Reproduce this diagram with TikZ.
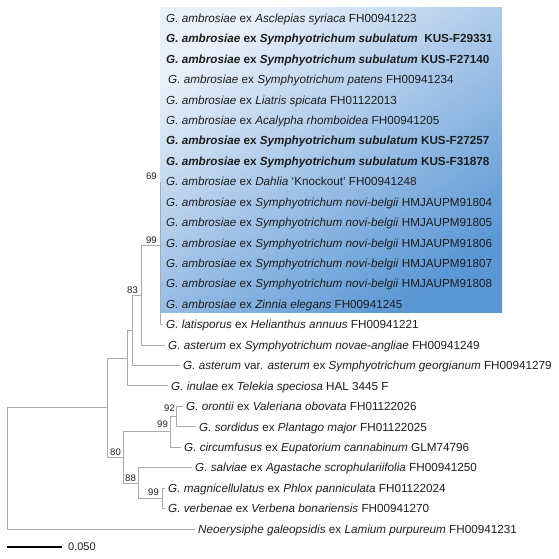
\documentclass[tikz,border=0pt]{standalone}
\usepackage{fontspec}
\setmainfont{Liberation Sans}
\usetikzlibrary{backgrounds}
\definecolor{boxlight}{HTML}{E9F0FA}
\definecolor{boxmid}{HTML}{9CC0E8}
\definecolor{boxdark}{HTML}{5B97D5}
\definecolor{branchgray}{HTML}{ABABAB}
\definecolor{inkgray}{HTML}{1E1E1E}
\newcommand{\gamb}{\textit{G. ambrosiae} ex}

\begin{document}
\begin{tikzpicture}[x=1pt, y=-1pt,
        branch/.style = {draw=branchgray, line width=0.9pt},
        taxon/.style = {anchor=west, inner xsep=3pt, inner ysep=0pt,
            text height=8.4pt, text depth=0pt,
            font=\fontsize{11.7}{14}\selectfont, text=inkgray},
        boot/.style = {anchor=south east, inner sep=0pt,
            font=\fontsize{9.5}{10}\selectfont, text=inkgray}]

    \useasboundingbox (0,0) rectangle (559,558);

    % Highlighted clade
    \shade[top color=boxlight, middle color=boxmid, bottom color=boxdark,
        shading angle=35] (160.4,7) rectangle (502,312);

    % G. ambrosiae
    \node[taxon] (a1) at (163,18.0) {\gamb\ \textit{Asclepias syriaca} FH00941223};
    \node[taxon] (a2) at (163,38.4) {\bfseries\gamb\ \textit{Symphyotrichum subulatum}\ \ KUS-F29331};
    \node[taxon] (a3) at (163,58.9) {\bfseries\gamb\ \textit{Symphyotrichum subulatum} KUS-F27140};
    \node[taxon] (a4) at (165,79.3) {\gamb\ \textit{Symphyotrichum patens} FH00941234};
    \node[taxon] (a5) at (163,99.8) {\gamb\ \textit{Liatris spicata} FH01122013};
    \node[taxon] (a6) at (163,120.2) {\gamb\ \textit{Acalypha rhomboidea} FH00941205};
    \node[taxon] (a7) at (163,140.6) {\bfseries\gamb\ \textit{Symphyotrichum subulatum} KUS-F27257};
    \node[taxon] (a8) at (163,161.1) {\bfseries\gamb\ \textit{Symphyotrichum subulatum} KUS-F31878};
    \node[taxon] (a9) at (163,181.5) {\gamb\ \textit{Dahlia} ‘Knockout’ FH00941248};
    \node[taxon] (a10) at (163,202.0) {\gamb\ \textit{Symphyotrichum novi-belgii} HMJAUPM91804};
    \node[taxon] (a11) at (163,222.4) {\gamb\ \textit{Symphyotrichum novi-belgii} HMJAUPM91805};
    \node[taxon] (a12) at (163,242.8) {\gamb\ \textit{Symphyotrichum novi-belgii} HMJAUPM91806};
    \node[taxon] (a13) at (163,263.3) {\gamb\ \textit{Symphyotrichum novi-belgii} HMJAUPM91807};
    \node[taxon] (a14) at (163,283.7) {\gamb\ \textit{Symphyotrichum novi-belgii} HMJAUPM91808};
    \node[taxon] (a15) at (163,304.2) {\gamb\ \textit{Zinnia elegans} FH00941245};

    % Other species
    \node[taxon] (lat) at (163,324.6) {\textit{G. latisporus} ex \textit{Helianthus annuus} FH00941221};
    \node[taxon] (astna) at (165,345.0) {\textit{G. asterum} ex \textit{Symphyotrichum novae-angliae} FH00941249};
    \node[taxon] (astvar) at (180,365.5) {\textit{G. asterum} var. \textit{asterum} ex \textit{Symphyotrichum georgianum} FH00941279};
    \node[taxon] (inu) at (168,385.9) {\textit{G. inulae} ex \textit{Telekia speciosa} HAL 3445 F};
    \node[taxon] (oro) at (183,406.4) {\textit{G. orontii} ex \textit{Valeriana obovata} FH01122026};
    \node[taxon] (sor) at (196,426.8) {\textit{G. sordidus} ex \textit{Plantago major} FH01122025};
    \node[taxon] (cir) at (181,447.2) {\textit{G. circumfusus} ex \textit{Eupatorium cannabinum} GLM74796};
    \node[taxon] (sal) at (192,467.7) {\textit{G. salviae} ex \textit{Agastache scrophulariifolia} FH00941250};
    \node[taxon] (mag) at (165,488.1) {\textit{G. magnicellulatus} ex \textit{Phlox panniculata} FH01122024};
    \node[taxon] (ver) at (165,508.6) {\textit{G. verbenae} ex \textit{Verbena bonariensis} FH00941270};
    \node[taxon] (neo) at (195,529.0) {\textit{Neoerysiphe galeopsidis} ex \textit{Lamium purpureum} FH00941231};

    % Internal nodes
    \coordinate (amb) at (160.8,181.5);
    \coordinate (n99a) at (160.8,245);
    \coordinate (n83) at (141,295);
    \coordinate (nc) at (132,330);
    \coordinate (nb) at (127,358);
    \coordinate (nmain) at (107,407.7);
    \coordinate (root) at (7,468.4);
    \coordinate (n92) at (176,416.6);
    \coordinate (n99b) at (170,431.9);
    \coordinate (n80) at (123,457.5);
    \coordinate (n88) at (138,483);
    \coordinate (n99c) at (162,498.3);

    % Branches hidden by the box
    \begin{pgfonlayer}{background}
        \foreach \leaf in {a1,a2,a3,a4,a5,a6,a7,a8,a9,a10,a11,a12,a13,a14,a15}
            \draw[branch] (amb) |- (\leaf.west);
    \end{pgfonlayer}

    % Branches
    \draw[branch] (n99a) |- (amb);
    \draw[branch] (n99a) |- (lat.west);
    \draw[branch] (n83) |- (n99a);
    \draw[branch] (n83) |- (astna.west);
    \draw[branch] (nc) |- (n83);
    \draw[branch] (nc) |- (astvar.west);
    \draw[branch] (nb) |- (nc);
    \draw[branch] (nb) |- (inu.west);
    \draw[branch] (nmain) |- (nb);
    \draw[branch] (nmain) |- (n80);
    \draw[branch] (n80) |- (n99b);
    \draw[branch] (n80) |- (n88);
    \draw[branch] (n99b) |- (n92);
    \draw[branch] (n99b) |- (cir.west);
    \draw[branch] (n92) |- (oro.west);
    \draw[branch] (n92) |- (sor.west);
    \draw[branch] (n88) |- (sal.west);
    \draw[branch] (n88) |- (n99c);
    \draw[branch] (n99c) |- (mag.west);
    \draw[branch] (n99c) |- (ver.west);
    \draw[branch] (root) |- (nmain);
    \draw[branch] (root) |- (neo.west);

    % Bootstrap values
    \node[boot] (b69) at ([xshift=-4pt, yshift=2pt]amb) {69};
    \node[boot] (b99a) at ([xshift=-4pt, yshift=1.5pt]n99a) {99};
    \node[boot] (b83) at ([xshift=-3pt, yshift=1.5pt]n83) {83};
    \node[boot] (b92) at ([xshift=-1pt, yshift=5pt]n92) {92};
    \node[boot] (b99b) at ([xshift=-2pt, yshift=4pt]n99b) {99};
    \node[boot] (b80) at ([xshift=-2pt, yshift=1.5pt]n80) {80};
    \node[boot] (b88) at ([xshift=-2pt, yshift=1.5pt]n88) {88};
    \node[boot] (b99c) at ([xshift=-3pt, yshift=2.5pt]n99c) {99};

    % Scale bar
    \coordinate (sb0) at (7,547);
    \coordinate (sb1) at (62,547);
    \draw[line width=2.2pt] (sb0) -- (sb1);
    \node[anchor=west, inner sep=0pt, font=\fontsize{11}{13}\selectfont,
        text=inkgray] (sblabel) at ([xshift=6pt]sb1) {0.050};

\end{tikzpicture}
\end{document}
